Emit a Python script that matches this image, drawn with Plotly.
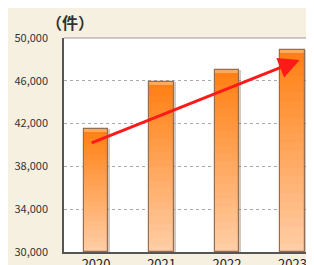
import plotly.graph_objects as go

years = ["2020", "2021", "2022", "2023"]
counts = [41500, 45900, 47000, 48850]
y_ticks = [30000, 34000, 38000, 42000, 46000, 50000]
y_tick_text = ["30,000", "34,000", "38,000", "42,000", "46,000", "50,000"]
unit_label = "<b>（件）</b>"
trend_start = (-0.09, 40150)
trend_end = (3.11, 47950)

base0 = 30000
N = 24
top_rgb = (255, 128, 20)
bot_rgb = (255, 205, 165)
bw = 0.37

fig = go.Figure()
xpos = list(range(len(years)))
# soft shadow
fig.add_trace(go.Bar(
    x=[p + 0.03 for p in xpos], y=[v - base0 for v in counts], base=[base0] * len(counts), width=bw,
    marker=dict(color="rgba(120,100,80,0.35)", line=dict(width=0)),
    hoverinfo="skip", showlegend=False,
))
for i in range(N):
    t = i / (N - 1)
    r = int(bot_rgb[0] + (top_rgb[0] - bot_rgb[0]) * t)
    g = int(bot_rgb[1] + (top_rgb[1] - bot_rgb[1]) * t)
    b = int(bot_rgb[2] + (top_rgb[2] - bot_rgb[2]) * t)
    fig.add_trace(go.Bar(
        x=xpos,
        y=[(v - base0) / N for v in counts],
        base=[base0 + (v - base0) * i / N for v in counts],
        width=bw,
        marker=dict(color=f"rgb({r},{g},{b})", line=dict(width=0)),
        hoverinfo="skip", showlegend=False,
    ))
# light top cap
fig.add_trace(go.Bar(
    x=xpos, y=[250] * len(counts), base=[v - 250 for v in counts], width=bw,
    marker=dict(color="rgb(255,170,90)", line=dict(width=0)),
    hoverinfo="skip", showlegend=False,
))
# outline
fig.add_trace(go.Bar(
    x=xpos, y=[v - base0 for v in counts], base=[base0] * len(counts), width=bw,
    marker=dict(color="rgba(0,0,0,0)", line=dict(width=1.2, color="rgb(150,110,80)")),
    hoverinfo="skip", showlegend=False,
))

fig.add_annotation(
    x=trend_end[0], y=trend_end[1], ax=trend_start[0], ay=trend_start[1],
    xref="x", yref="y", axref="x", ayref="y",
    showarrow=True, arrowhead=2, arrowsize=1.4, arrowwidth=3, arrowcolor="#ff1a1a",
    text="",
)
fig.add_annotation(
    x=0.025, y=1.075, xref="paper", yref="paper", xanchor="center", yanchor="middle",
    text=unit_label, showarrow=False,
    font=dict(size=16, color="#333333", family="Noto Sans CJK JP"),
)

fig.update_layout(
    width=314, height=265,
    margin=dict(l=56, r=0, t=30, b=18),
    paper_bgcolor="#f6f0e1",
    plot_bgcolor="white",
    barmode="overlay",
    bargap=0,
    font=dict(family="Noto Sans CJK JP", color="#333333"),
)
fig.update_xaxes(
    range=[-0.49, 3.45], tickvals=xpos, ticktext=years,
    tickfont=dict(size=13, color="#222222", family="Noto Sans CJK JP"),
    showgrid=False, showline=True, linecolor="#555555", linewidth=1.5,
    ticks="", zeroline=False,
)
fig.update_yaxes(
    range=[30000, 50000], tickvals=y_ticks, ticktext=y_tick_text,
    tickfont=dict(size=11, color="#333333", family="Noto Sans CJK JP"),
    showgrid=True, gridcolor="#aaaaaa", griddash="dot", gridwidth=1,
    showline=True, linecolor="#555555", linewidth=1.5, mirror=False,
    ticks="outside", ticklen=12, tickcolor="rgba(0,0,0,0)", zeroline=False,
)
fig.add_shape(type="line", xref="paper", yref="paper", x0=0, x1=1, y0=1, y1=1,
              line=dict(color="#999999", width=1))

fig.write_html("out.html")
